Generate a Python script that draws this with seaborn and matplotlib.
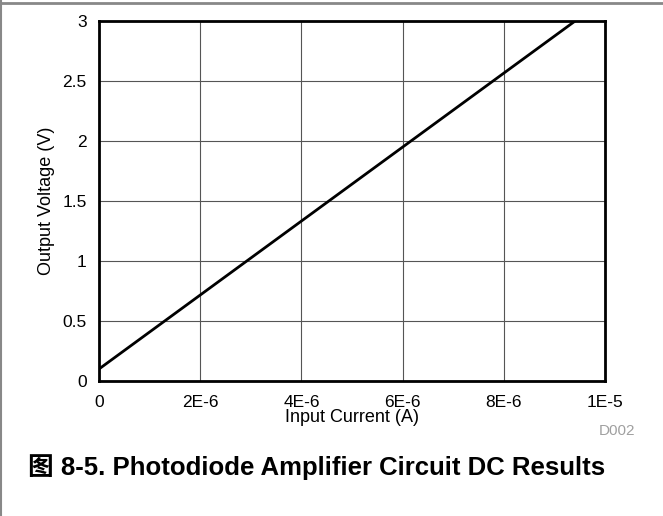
import matplotlib
matplotlib.use("Agg")
import matplotlib.pyplot as plt
import seaborn as sns
import pandas as pd
from matplotlib.lines import Line2D

# Data
input_current = [0.0, 9.41e-6]
output_voltage = [0.1, 3.0]
x_ticks = [0, 2e-6, 4e-6, 6e-6, 8e-6, 1e-5]
x_ticklabels = ["0", "2E-6", "4E-6", "6E-6", "8E-6", "1E-5"]
y_ticks = [0, 0.5, 1, 1.5, 2, 2.5, 3]
y_ticklabels = ["0", "0.5", "1", "1.5", "2", "2.5", "3"]

sns.set_theme(style="white")
plt.rcParams['font.family'] = ['Liberation Sans', 'Noto Sans CJK SC', 'DejaVu Sans']

df = pd.DataFrame({"x": input_current, "y": output_voltage})

fig = plt.figure(figsize=(6.63, 5.16), dpi=100)
ax = fig.add_axes([99/663, 1-381/516, (605-99)/663, (381-21)/516])

sns.lineplot(data=df, x="x", y="y", ax=ax, color="black", linewidth=2.0)

ax.set_xlim(0, 1e-5)
ax.set_ylim(0, 3)
ax.set_xticks(x_ticks)
ax.set_xticklabels(x_ticklabels)
ax.set_yticks(y_ticks)
ax.set_yticklabels(y_ticklabels)
ax.tick_params(axis="both", length=0, labelsize=12.5, colors="black")
ax.tick_params(axis="x", pad=10)
ax.tick_params(axis="y", pad=9)
ax.grid(True, color="#555555", linewidth=0.8)
ax.set_axisbelow(True)
for s in ax.spines.values():
    s.set_color("black")
    s.set_linewidth(2.0)
ax.set_xlabel("Input Current (A)", fontsize=13, labelpad=-1, color="black")
ax.set_ylabel("Output Voltage (V)", fontsize=13, labelpad=5, color="black")

fig.text(617/663, 1-431/516, "D002", fontsize=11, color="#a0a0a0", ha="center", va="center")
fig.text(317/663, 1-467/516, "图 8-5. Photodiode Amplifier Circuit DC Results",
         fontsize=18.5, fontweight="bold", ha="center", va="center", color="black",
         family=['Liberation Sans', 'Noto Sans CJK SC'])

# page frame lines (gray)
fig.add_artist(Line2D([0, 1], [1-2.5/516, 1-2.5/516], transform=fig.transFigure, color="#888888", linewidth=2))
fig.add_artist(Line2D([0.6/663, 0.6/663], [0, 1], transform=fig.transFigure, color="#888888", linewidth=1.5))

fig.savefig("out.png", dpi=100)
